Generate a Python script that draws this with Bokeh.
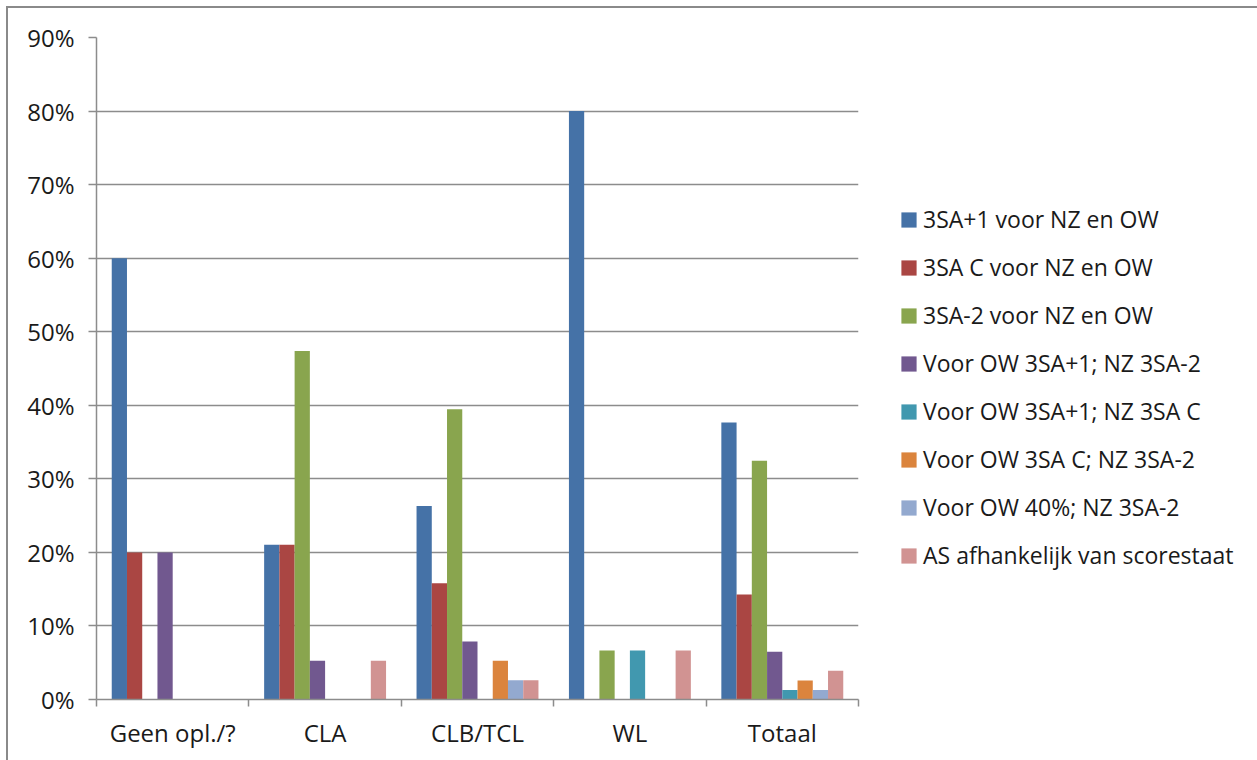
from bokeh.plotting import figure
from bokeh.models import (Range1d, LinearAxis, FixedTicker, NumeralTickFormatter,
                          Grid, Legend, LegendItem, ColumnDataSource)
from bokeh.transform import dodge
from bokeh.embed import file_html
from bokeh.resources import INLINE

categories = ["Geen opl./?", "CLA", "CLB/TCL", "WL", "Totaal"]
series_names = [
    "3SA+1 voor NZ en OW",
    "3SA C voor NZ en OW",
    "3SA-2 voor NZ en OW",
    "Voor OW 3SA+1; NZ 3SA-2",
    "Voor OW 3SA+1; NZ 3SA C",
    "Voor OW 3SA C; NZ 3SA-2",
    "Voor OW 40%; NZ 3SA-2",
    "AS afhankelijk van scorestaat",
]
s_3sa_plus1 = [0.60, 0.2105, 0.2632, 0.80, 0.3766]
s_3sa_c = [0.20, 0.2105, 0.1579, 0.0, 0.1429]
s_3sa_min2 = [0.0, 0.4737, 0.3947, 0.0667, 0.3247]
s_ow_p1_nz_m2 = [0.20, 0.0526, 0.0789, 0.0, 0.0649]
s_ow_p1_nz_c = [0.0, 0.0, 0.0, 0.0667, 0.0130]
s_ow_c_nz_m2 = [0.0, 0.0, 0.0526, 0.0, 0.0260]
s_ow_40_nz_m2 = [0.0, 0.0, 0.0263, 0.0, 0.0130]
s_as_score = [0.0, 0.0526, 0.0263, 0.0667, 0.0390]
y_ticks = [0.0, 0.1, 0.2, 0.3, 0.4, 0.5, 0.6, 0.7, 0.8, 0.9]

series_values = [s_3sa_plus1, s_3sa_c, s_3sa_min2, s_ow_p1_nz_m2,
                 s_ow_p1_nz_c, s_ow_c_nz_m2, s_ow_40_nz_m2, s_as_score]
colors = ["#4572A7", "#AA4643", "#89A54E", "#71588F",
          "#4198AF", "#DB843D", "#93A9CF", "#D19392"]

GRAY = "#8c8c8c"
FONT = "Open Sans"

ncat = len(categories)
centers = [i + 0.5 for i in range(ncat)]
edges = list(range(ncat + 1))

data = {"xc": centers}
for i, vals in enumerate(series_values):
    data["s%d" % i] = vals
source = ColumnDataSource(data)

p = figure(frame_width=762, frame_height=662,
           x_range=Range1d(0, ncat), y_range=Range1d(0, 0.9),
           x_axis_location=None, y_axis_location=None,
           output_backend="svg", toolbar_location=None,
           min_border_left=88, min_border_right=0,
           min_border_top=29, min_border_bottom=61)
p.outline_line_color = None
p.xgrid.visible = False
p.ygrid.visible = False
p.styles = {"border-top": "2px solid #8a8a8a", "border-left": "2px solid #8a8a8a",
            "margin-top": "6px", "margin-left": "6px"}

grid = Grid(dimension=1, ticker=FixedTicker(ticks=y_ticks),
            grid_line_color=GRAY, grid_line_width=1.5)
p.add_layout(grid)

n = len(series_values)
w = 0.1
renderers = []
for i in range(n):
    off = (i - (n - 1) / 2) * w
    r = p.vbar(x=dodge("xc", off), top="s%d" % i, width=w,
               source=source, fill_color=colors[i], line_color=None)
    renderers.append(r)

yaxis = LinearAxis(ticker=FixedTicker(ticks=y_ticks), formatter=NumeralTickFormatter(format="0%"),
                   major_tick_out=8, major_tick_in=0, minor_tick_line_color=None,
                   axis_line_color=GRAY, axis_line_width=1.5,
                   major_tick_line_color=GRAY, major_tick_line_width=1.5,
                   major_label_standoff=14,
                   major_label_text_font=FONT, major_label_text_font_size="24px",
                   major_label_text_color="#1a1a1a")
p.add_layout(yaxis, "left")

xaxis = LinearAxis(ticker=FixedTicker(ticks=centers, minor_ticks=edges),
                   major_label_overrides={c: cat for c, cat in zip(centers, categories)},
                   major_tick_line_color=None, major_tick_out=0, major_tick_in=0,
                   minor_tick_out=7, minor_tick_in=0,
                   minor_tick_line_color=GRAY, minor_tick_line_width=1.5,
                   axis_line_color=GRAY, axis_line_width=1.5,
                   major_label_standoff=9,
                   major_label_text_font=FONT, major_label_text_font_size="24px",
                   major_label_text_color="#1a1a1a")
p.add_layout(xaxis, "below")

legend = Legend(items=[LegendItem(label=nm, renderers=[r]) for nm, r in zip(series_names, renderers)],
                location=(41, 128), padding=0, margin=0, spacing=16,
                glyph_width=19, glyph_height=19, label_height=32, label_standoff=5,
                label_text_font=FONT, label_text_font_size="23px", label_text_color="#1a1a1a",
                border_line_color=None, background_fill_alpha=0)
p.add_layout(legend, "right")

open("out.html", "w").write(file_html(p, INLINE))
